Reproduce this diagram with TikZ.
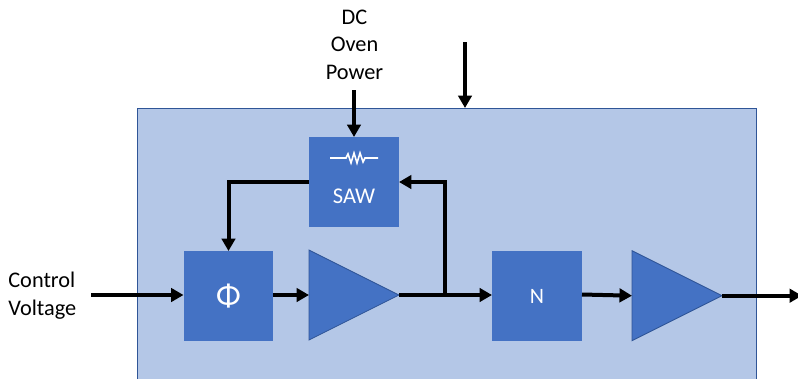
\documentclass[tikz,border=0pt]{standalone}
\usepackage{fontspec}
\setmainfont{Carlito}
\usetikzlibrary{arrows.meta,shapes.geometric}
\definecolor{oscfill}{HTML}{B4C7E7}
\definecolor{blkfill}{HTML}{4472C4}
\definecolor{blkline}{HTML}{2F5597}
\tikzset{
  sig/.style={line width=0.08cm, -{Triangle[length=0.25cm,width=0.27cm]}},
  blk/.style={fill=blkfill, minimum size=1.8cm, inner sep=0pt, outer sep=0pt, text=white, font=\fontsize{12.5}{14}\selectfont},
  amp/.style={draw=blkline, line width=0.5pt, fill=blkfill, isosceles triangle, isosceles triangle apex angle=53.13, isosceles triangle stretches, minimum width=1.8cm, minimum height=1.8cm, inner sep=0pt, outer sep=0pt, anchor=lower side},
  lbl/.style={align=center, inner sep=0pt, font=\fontsize{12.7}{15.6}\selectfont},
}
\def\oscblock(#1,#2,#3,#4){
  \node[blk] (#4) at (#1,#2) {#3};
}
\begin{document}
\begin{tikzpicture}[x=0.02cm,y=-0.02cm]
\useasboundingbox (0,0) rectangle (798,379);
\fill[oscfill] (137,108) rectangle (756,379);
\draw[blkline, line width=0.5pt] (137,379) -- (137,108) -- (756,108) -- (756,379);
% blocks
\oscblock(228.5,296,{\fontsize{18.5}{18.5}\selectfont Φ},phase)
\oscblock(537,296,N,divider)
\node[blk] (saw) at (354,182) {};
\node[text=white, inner sep=0pt, font=\fontsize{12.8}{14}\selectfont] (sawtxt) at (354,196) {SAW};
\node[amp] (amp_a) at (309,295) {};
\node[amp] (amp_b) at (632,295.7) {};
% resistor symbol
\coordinate (res_l) at (330,158);
\coordinate (res_r) at (378,158);
\draw[white, line width=0.9pt] (res_l) -- (346,158) -- (348,154) -- (351,163) -- (354,153) -- (357,163) -- (360,153) -- (363,162) -- (365,158) -- (res_r);
% free ends
\coordinate (dc_in) at (354,90);
\coordinate (top_in) at (465,42);
\coordinate (top_end) at (465,108);
\coordinate (ctl_in) at (91,295);
\coordinate (ctl_end) at (phase.west |- ctl_in);
\coordinate (branch) at (445,295);
\coordinate (amp_a_end) at (divider.west |- amp_a.apex);
\coordinate (div_out) at (582,294.5);
\coordinate (out_end) at (802,295.7);
% connectors
\draw[sig] (dc_in) -- (saw.north);
\draw[sig] (top_in) -- (top_end);
\draw[sig] (ctl_in) -- (ctl_end);
\draw[sig] (saw.west) -| (phase.north);
\draw[sig] (phase.east |- amp_a.lower side) -- (amp_a.lower side);
\draw[sig] (amp_a.apex) -- (amp_a_end);
\draw[sig] (branch) |- (saw.east);
\draw[sig] (div_out) -- (amp_b.lower side);
\draw[sig] (amp_b.apex) -- (out_end);
% labels
\node[lbl] (dc_lbl) at (354.5,44.5) {DC\\Oven\\Power};
\node[lbl, align=left, anchor=west, font=\fontsize{12.7}{16}\selectfont] (ctl_lbl) at (8,296) {Control\\Voltage};
\end{tikzpicture}
\end{document}
